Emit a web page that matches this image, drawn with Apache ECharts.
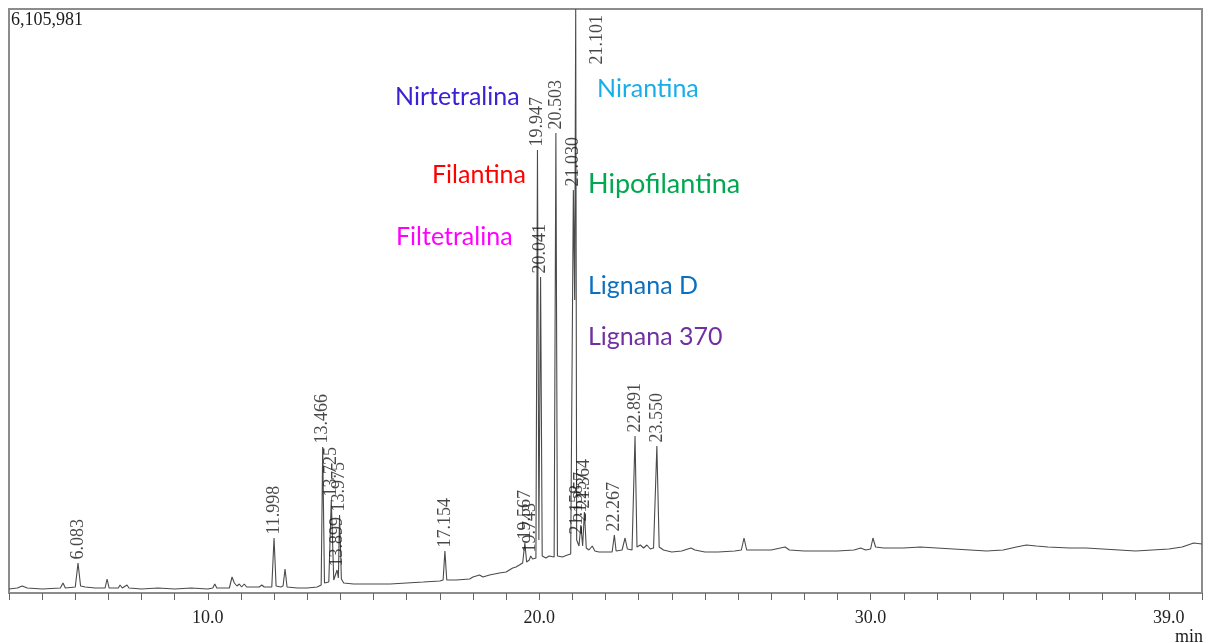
<!DOCTYPE html>
<html><head><meta charset="utf-8">
<script src="https://cdn.jsdelivr.net/npm/echarts@6/dist/echarts.min.js"></script>
<style>html,body{margin:0;padding:0;background:#fff}#c{width:1208px;height:643px}</style>
</head><body><div id="c"></div>
<script>
// Retention time (min)
const times = [
  4.00, 4.25, 4.40, 4.55, 5.00, 5.55, 5.63, 5.70, 6.00, 6.083, 6.16, 6.30, 6.60, 6.90, 6.96, 7.02,
  7.30, 7.35, 7.42, 7.56, 7.62, 8.00, 8.50, 9.00, 9.50, 10.00, 10.15, 10.21, 10.27, 10.65, 10.73,
  10.80, 10.88, 10.95, 11.02, 11.10, 11.17, 11.55, 11.63, 11.70, 11.93, 11.998, 12.06, 12.20, 12.27,
  12.33, 12.39, 12.70, 13.00, 13.30, 13.42, 13.466, 13.52, 13.65, 13.725, 13.80, 13.86, 13.899, 13.94,
  13.975, 14.03, 14.10, 14.40, 15.00, 15.50, 16.00, 16.50, 17.00, 17.10, 17.154, 17.21, 17.50, 17.90,
  18.00, 18.10, 18.20, 18.30, 18.50, 18.80, 19.00, 19.10, 19.20, 19.30, 19.40, 19.50, 19.567, 19.62,
  19.70, 19.743, 19.80, 19.90, 19.947, 19.99, 20.041, 20.09, 20.20, 20.30, 20.45, 20.503, 20.55, 20.70,
  20.85, 20.95, 21.03, 21.07, 21.101, 21.13, 21.158, 21.20, 21.257, 21.31, 21.364, 21.42, 21.50, 21.60,
  21.68, 21.80, 22.00, 22.20, 22.267, 22.32, 22.50, 22.59, 22.66, 22.80, 22.891, 22.95, 23.05, 23.15,
  23.25, 23.35, 23.45, 23.55, 23.62, 23.75, 24.00, 24.30, 24.58, 24.70, 25.00, 25.40, 25.90, 26.10,
  26.18, 26.26, 26.50, 27.00, 27.42, 27.55, 28.00, 28.50, 29.00, 29.50, 29.70, 29.85, 30.00, 30.07,
  30.15, 30.40, 31.00, 31.50, 32.00, 32.50, 33.00, 33.50, 34.00, 34.40, 34.70, 35.00, 35.35, 36.00,
  36.50, 37.00, 37.50, 38.00, 38.50, 39.00, 39.40, 39.75, 40.00
];
// Detector intensity (counts)
const intensity = [
  41800, 52300, 73200, 52300, 41800, 52300, 104600, 52300, 62700, 313700, 73200, 62700, 52300, 52300, 146400, 52300,
  52300, 83600, 52300, 83600, 52300, 41800, 52300, 41800, 52300, 41800, 52300, 94100, 52300, 52300, 167300,
  104600, 73200, 94100, 62700, 94100, 62700, 62700, 83600, 62700, 62700, 575000, 73200, 62700, 73200,
  250900, 62700, 52300, 52300, 62700, 83600, 1526400, 104600, 115000, 972300, 135900, 146400, 240500, 156800,
  815500, 146400, 104600, 94100, 94100, 94100, 104600, 115000, 125500, 135900, 439100, 135900, 135900, 146400,
  167300, 177700, 188200, 167300, 188200, 209100, 219600, 240500, 261400, 271800, 292700, 313700, 522800, 324100,
  345000, 386800, 355500, 365900, 4631600, 554100, 3303800, 386800, 365900, 386800, 376400, 4809300, 386800, 376400,
  397300, 407700, 4213400, 3063300, 6105981, 554100, 575000, 491400, 710900, 491400, 846900, 470500, 449600, 491400,
  439100, 428700, 428700, 428700, 606400, 439100, 449600, 575000, 460000, 449600, 1641400, 480900, 501800, 470500,
  501800, 460000, 470500, 1536900, 480900, 449600, 428700, 439100, 470500, 449600, 428700, 428700, 439100, 449600,
  575000, 449600, 449600, 449600, 480900, 449600, 439100, 439100, 439100, 449600, 470500, 449600, 460000, 575000,
  480900, 470500, 470500, 480900, 470500, 460000, 449600, 439100, 449600, 480900, 501800, 491400, 480900, 470500,
  470500, 460000, 449600, 439100, 449600, 460000, 480900, 522800, 512300
];
// Labelled peaks (retention times)
const peakLabels = ['6.083','11.998','13.466','13.725','13.899','13.975','17.154','19.567','19.743','19.947',
  '20.041','20.503','21.030','21.101','21.158','21.257','21.364','22.267','22.891','23.550'];
// Compound names
const compoundNames = ['Nirtetralina','Nirantina','Filantina','Hipofilantina','Filtetralina','Lignana D','Lignana 370'];
// X-axis tick labels
const xTickLabels = [10, 20, 30, 39];
const maxIntensity = 6105981;

// styling / layout of compound names (pixels)
const compoundLayout = [
  {x: 395, y: 97, color: '#3a22d2', size: 25},
  {x: 597, y: 89, color: '#1aaee8', size: 25},
  {x: 432, y: 175, color: '#ff0000', size: 25},
  {x: 588, y: 184, color: '#00a84f', size: 27},
  {x: 396, y: 237, color: '#ff00ff', size: 25},
  {x: 588, y: 286, color: '#0a70c0', size: 25},
  {x: 588, y: 337, color: '#7030a0', size: 25}
];

const lineData = times.map((t, i) => [t, intensity[i]]);
const labelData = peakLabels.map(lbl => {
  const t = parseFloat(lbl);
  const i = times.indexOf(t);
  const item = {value: [t, intensity[i]], name: lbl};
  if (lbl === '21.101') item.label = {show: true, position: [22, 56]};
  return item;
});

const serif = '"Liberation Serif", "DejaVu Serif", serif';
const chart = echarts.init(document.getElementById('c'));
chart.setOption({
  animation: false,
  grid: {left: 9, right: 6, top: 9, bottom: 50, show: true, borderColor: '#8c8c8c', borderWidth: 2, backgroundColor: 'transparent'},
  xAxis: {
    type: 'value', min: 4, max: 40, interval: 1,
    axisLine: {show: true, lineStyle: {color: '#8c8c8c', width: 2}},
    axisTick: {show: true, length: 7, lineStyle: {color: '#666', width: 1}},
    splitLine: {show: false},
    axisLabel: {
      customValues: xTickLabels, formatter: v => v.toFixed(1),
      margin: 16, fontFamily: serif, fontSize: 18, color: '#222'
    }
  },
  yAxis: {type: 'value', min: 0, max: maxIntensity, show: false, splitLine: {show: false}},
  series: [
    {
      type: 'line', data: lineData, symbol: 'none', smooth: false,
      lineStyle: {color: '#4a4a4a', width: 1.1}, z: 2
    },
    {
      type: 'scatter', data: labelData, symbolSize: 1, clip: false,
      itemStyle: {color: 'transparent'}, z: 3,
      labelLayout: {hideOverlap: false},
      label: {
        show: true, position: 'top', distance: 3, rotate: 90,
        align: 'left', verticalAlign: 'middle',
        formatter: p => p.name, fontFamily: serif, fontSize: 18, color: '#1a1a1a'
      }
    }
  ],
  graphic: [
    {type: 'text', x: 11, y: 11, style: {text: maxIntensity.toLocaleString('en-US'), font: '18px ' + serif, fill: '#1a1a1a', verticalAlign: 'top'}},
    {type: 'text', x: 1203, y: 637, style: {text: 'min', font: '18px ' + serif, fill: '#1a1a1a', align: 'right', verticalAlign: 'middle'}}
  ].concat(compoundNames.map((n, i) => ({
    type: 'text', x: compoundLayout[i].x, y: compoundLayout[i].y,
    style: {text: n, fill: compoundLayout[i].color, font: compoundLayout[i].size + 'px Lato, "Open Sans", sans-serif', verticalAlign: 'middle', align: 'left'}
  })))
});
</script>
</body></html>
